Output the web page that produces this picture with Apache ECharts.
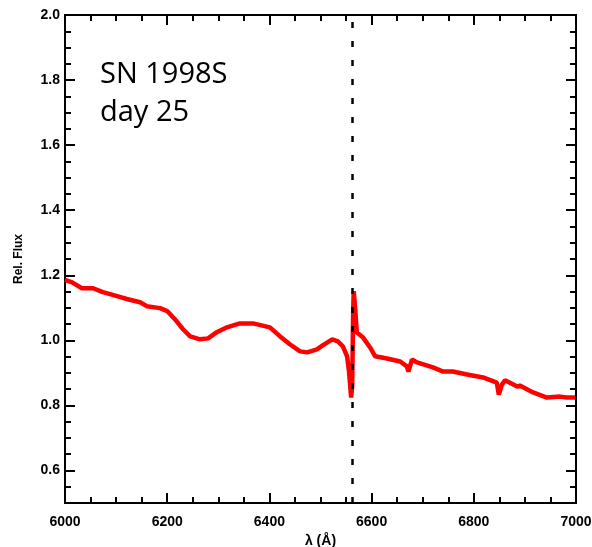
<!DOCTYPE html>
<html>
<head>
<meta charset="utf-8">
<script src="https://cdn.jsdelivr.net/npm/echarts@6/dist/echarts.min.js"></script>
<style>html,body{margin:0;padding:0;background:#fff}#c{width:592px;height:547px}</style>
</head>
<body>
<div id="c"></div>
<script>
// Data
const wavelength = [6000,6014,6033,6055,6074,6102,6121,6147,6160,6186,6200,6215,6231,6245,6264,6280,6297,6317,6342,6368,6401,6421,6440,6460,6474,6493,6505,6523,6534,6544,6552,6556,6560,6562,6564,6565,6568,6571,6583,6597,6607,6630,6656,6669,6672,6679,6689,6720,6740,6759,6787,6818,6845,6849,6855,6861,6885,6890,6916,6943,6969,6982,6998];
const relFlux = [1.186,1.178,1.160,1.160,1.148,1.136,1.127,1.117,1.105,1.099,1.090,1.065,1.034,1.012,1.003,1.006,1.025,1.040,1.052,1.052,1.040,1.012,0.988,0.966,0.963,0.972,0.985,1.003,0.997,0.981,0.951,0.901,0.824,0.858,1.096,1.151,1.096,1.025,1.009,0.978,0.951,0.944,0.935,0.920,0.904,0.941,0.932,0.917,0.904,0.904,0.895,0.886,0.870,0.833,0.864,0.877,0.858,0.861,0.840,0.824,0.827,0.824,0.824];
const halphaLine = 6563;
const yMajorTicks = [0.6,0.8,1.0,1.2,1.4,1.6,1.8,2.0];
const yMinorTicks = [0.55,0.65,0.7,0.75,0.85,0.9,0.95,1.05,1.1,1.15,1.25,1.3,1.35,1.45,1.5,1.55,1.65,1.7,1.75,1.85,1.9,1.95];
const titleLines = ['SN 1998S', 'day 25'];
const xName = 'λ (Å)';
const yName = 'Rel. Flux';

const chart = echarts.init(document.getElementById('c'));
const labelFont = {fontFamily: 'Liberation Sans', fontWeight: 'bold', fontSize: 14, color: '#000'};
const line = {show: true, lineStyle: {color: '#000', width: 2}};
function yAx(pos, ticks, len, showLabel, name) {
  return {
    type: 'value', position: pos, min: 0.5, max: 2.0,
    name: name || '', nameLocation: 'middle', nameGap: 40,
    nameTextStyle: {fontFamily: 'Liberation Sans', fontWeight: 'bold', fontSize: 12, color: '#000'},
    axisLine: line, splitLine: {show: false},
    axisTick: {show: true, inside: true, length: len, customValues: ticks, lineStyle: {color: '#000', width: 2}},
    axisLabel: Object.assign({show: showLabel, margin: 5, customValues: yMajorTicks, formatter: v => v.toFixed(1)}, labelFont)
  };
}
function xAx(pos, showLabel, name) {
  return {
    type: 'value', position: pos, min: 6000, max: 7000, interval: 200,
    name: name || '', nameLocation: 'middle', nameGap: 30,
    nameTextStyle: {fontFamily: 'Liberation Sans', fontWeight: 'bold', fontSize: 14, color: '#000'},
    axisLine: line, splitLine: {show: false},
    axisTick: {show: true, inside: true, length: 10, lineStyle: {color: '#000', width: 2}},
    minorTick: {show: true, splitNumber: 4, length: 6, lineStyle: {color: '#000', width: 2}},
    axisLabel: Object.assign({show: showLabel, margin: 12, formatter: v => String(v)}, labelFont)
  };
}
chart.setOption({
  animation: false,
  grid: {left: 65, right: 16, top: 15, bottom: 44, outerBoundsMode: 'none', containLabel: false},
  xAxis: [xAx('bottom', true, xName), xAx('top', false)],
  yAxis: [
    yAx('left', yMajorTicks, 10, true, yName),
    yAx('left', yMinorTicks, 6, false),
    yAx('right', yMajorTicks, 10, false),
    yAx('right', yMinorTicks, 6, false)
  ],
  graphic: [
    {type: 'text', left: 100, top: 60, style: {text: titleLines[0], fontFamily: 'Open Sans', fontSize: 29, fill: '#000'}},
    {type: 'text', left: 100, top: 98, style: {text: titleLines[1], fontFamily: 'Open Sans', fontSize: 29, fill: '#000'}}
  ],
  series: [{
    type: 'line', xAxisIndex: 0, yAxisIndex: 0,
    data: wavelength.map((w, i) => [w, relFlux[i]]),
    showSymbol: false, symbol: 'none',
    lineStyle: {color: '#ff0000', width: 4.5},
    markLine: {
      silent: true, symbol: 'none', label: {show: false},
      lineStyle: {color: '#000', width: 2.5, type: [6, 13]},
      data: [{xAxis: halphaLine}]
    },
    z: 3
  }]
});
</script>
</body>
</html>
